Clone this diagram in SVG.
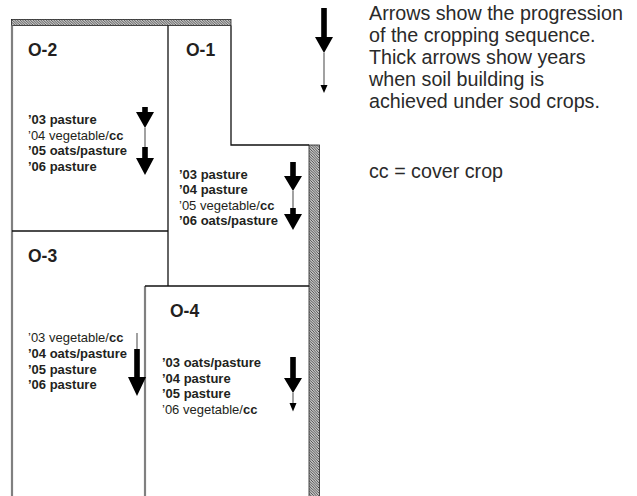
<svg xmlns="http://www.w3.org/2000/svg" width="637" height="496" viewBox="0 0 637 496">
<defs>
<pattern id="hatch" patternUnits="userSpaceOnUse" width="2.6" height="2.6">
<rect width="2.6" height="2.6" fill="#fff"/>
<path d="M-1,-1 L3.6,3.6 M-1,1.6 L1,3.6 M1.6,-1 L3.6,1" stroke="#333" stroke-width="0.9"/>
</pattern>
</defs>
<style>
text{font-family:"Liberation Sans",Arial,Helvetica,sans-serif;fill:#231f20}
.t{font-size:13px}
.b{font-weight:bold}
.lbl{font-size:17.5px;font-weight:bold}
.leg{font-size:19.7px;fill:#2a2a2a}
.wall{stroke:#111;stroke-width:1.3;fill:none}
.gwall{stroke:#808080;stroke-width:2.2;fill:none}
.band{fill:url(#hatch);stroke:#222;stroke-width:0.8}
.thick{fill:#000}
.thin{stroke:#555;stroke-width:1.1;fill:none}
</style>
<rect width="637" height="496" fill="#fff"/>

<g id="plan">
<rect class="band" x="11.5" y="19.5" width="219.5" height="6"/>
<rect class="band" x="309" y="145" width="10.5" height="352"/>
<path class="gwall" d="M12,25.5 V496"/>
<path class="gwall" d="M145,286 V496"/>
<path class="wall" d="M168,25.5 V286"/>
<path class="wall" d="M231,25.5 V145 H309"/>
<path class="wall" d="M12,231 H168"/>
<path class="wall" d="M145,286 H309"/>
</g>

<g id="O-2">
<text class="lbl" x="28" y="56">O-2</text>
<text class="t b" x="28" y="124">’03 pasture</text>
<text class="t" x="28" y="139.5">’04 vegetable/<tspan class="b">cc</tspan></text>
<text class="t b" x="28" y="155">’05 oats/pasture</text>
<text class="t b" x="28" y="170.5">’06 pasture</text>
</g>

<g id="O-1">
<text class="lbl" x="186" y="56">O-1</text>
<text class="t b" x="179" y="178.5">’03 pasture</text>
<text class="t b" x="179" y="194">’04 pasture</text>
<text class="t" x="179" y="209.5">’05 vegetable/<tspan class="b">cc</tspan></text>
<text class="t b" x="179" y="225">’06 oats/pasture</text>
</g>

<g id="O-3">
<text class="lbl" x="28" y="262">O-3</text>
<text class="t" x="28" y="342">’03 vegetable/<tspan class="b">cc</tspan></text>
<text class="t b" x="28" y="358">’04 oats/pasture</text>
<text class="t b" x="28" y="373.5">’05 pasture</text>
<text class="t b" x="28" y="389">’06 pasture</text>
</g>

<g id="O-4">
<text class="lbl" x="170" y="317">O-4</text>
<text class="t b" x="162" y="367">’03 oats/pasture</text>
<text class="t b" x="162" y="382.5">’04 pasture</text>
<text class="t b" x="162" y="398">’05 pasture</text>
<text class="t" x="162" y="414">’06 vegetable/<tspan class="b">cc</tspan></text>
</g>

<g id="legend">
<text class="leg" x="369" y="20">Arrows show the progression</text>
<text class="leg" x="369" y="42">of the cropping sequence.</text>
<text class="leg" x="369" y="64">Thick arrows show years</text>
<text class="leg" x="369" y="86">when soil building is</text>
<text class="leg" x="369" y="108">achieved under sod crops.</text>
<text class="leg" x="369" y="178">cc = cover crop</text>
</g>

<g id="connectors">
<!-- legend -->
<path class="thick" d="M321.2,8 H326.8 V37 H333 L324,53 L315,37 H321.2 Z"/>
<path class="thin" d="M324,53 V86"/>
<path class="thick" d="M320.5,85 H327.5 L324,93 Z"/>
<!-- O-2 -->
<path class="thick" d="M142.2,107 H147.8 V112 H154 L145,128 L136,112 H142.2 Z"/>
<path class="thin" d="M145,128 V147"/>
<path class="thick" d="M142.2,147 H147.8 V158 H154 L145,175 L136,158 H142.2 Z"/>
<!-- O-1 -->
<path class="thick" d="M290.2,162 H295.8 V176 H302 L293,191 L284,176 H290.2 Z"/>
<path class="thin" d="M293,191 V208"/>
<path class="thick" d="M290.2,208 H295.8 V214 H302 L293,230 L284,214 H290.2 Z"/>
<!-- O-3 -->
<path class="thin" d="M137,333 V349"/>
<path class="thick" d="M134.2,349 H139.8 V377 H146 L137,396 L128,377 H134.2 Z"/>
<!-- O-4 -->
<path class="thick" d="M290.2,357 H295.8 V378 H302 L293,393 L284,378 H290.2 Z"/>
<path class="thin" d="M293,393 V404"/>
<path class="thick" d="M289.5,403 H296.5 L293,411.5 Z"/>
</g>
</svg>
